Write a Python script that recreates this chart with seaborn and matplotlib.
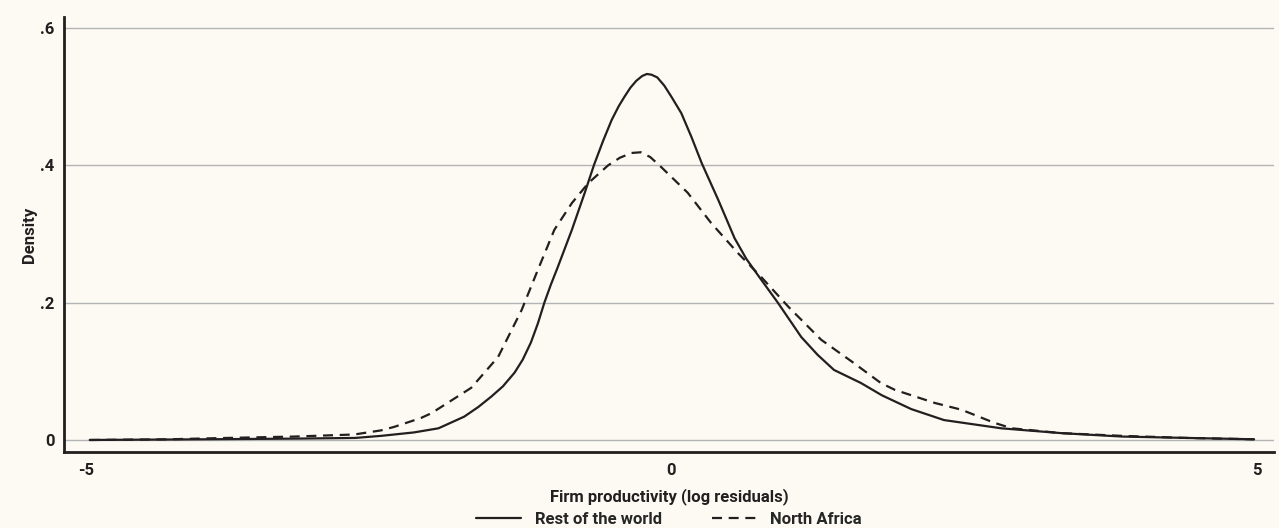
import numpy as np
import pandas as pd
import matplotlib
matplotlib.use("Agg")
import matplotlib.pyplot as plt
import seaborn as sns
from matplotlib.lines import Line2D

# ---- data ----
row_x = [-4.97, -4.0, -3.2, -2.7, -2.48, -2.2, -1.99, -1.77, -1.65, -1.54, -1.44, -1.34,
         -1.27, -1.20, -1.14, -1.085, -1.03, -0.97, -0.85, -0.74, -0.66, -0.58, -0.51,
         -0.45, -0.40, -0.35, -0.30, -0.25, -0.21, -0.17, -0.12, -0.06, 0.0, 0.085,
         0.17, 0.26, 0.40, 0.47, 0.54, 0.64, 0.74, 0.91, 1.11, 1.25, 1.39, 1.62, 1.80,
         2.05, 2.33, 2.82, 3.33, 3.85, 4.4, 4.98]
row_y = [0.000, 0.001, 0.002, 0.003, 0.006, 0.011, 0.017, 0.034, 0.048, 0.063, 0.078, 0.098,
         0.117, 0.142, 0.170, 0.200, 0.226, 0.252, 0.306, 0.360, 0.401, 0.437, 0.466,
         0.486, 0.500, 0.513, 0.523, 0.530, 0.533, 0.532, 0.528, 0.516, 0.500, 0.476,
         0.442, 0.403, 0.350, 0.322, 0.294, 0.264, 0.240, 0.200, 0.150, 0.124, 0.102,
         0.083, 0.065, 0.045, 0.029, 0.017, 0.010, 0.005, 0.003, 0.001]

na_x = [-4.97, -4.3, -3.79, -3.22, -2.71, -2.48, -2.37, -2.14, -2.05, -1.71, -1.48,
        -1.28, -1.14, -1.00, -0.85, -0.71, -0.54, -0.44, -0.34, -0.26, -0.18, -0.09,
        0.14, 0.34, 0.57, 0.77, 1.00, 1.28, 1.56, 1.79, 1.91, 2.25, 2.48, 2.76, 2.91,
        3.33, 3.85, 4.4, 4.98]
na_y = [0.000, 0.001, 0.003, 0.005, 0.008, 0.014, 0.019, 0.032, 0.039, 0.076, 0.121,
        0.189, 0.248, 0.306, 0.345, 0.374, 0.400, 0.411, 0.418, 0.419, 0.412, 0.398,
        0.360, 0.316, 0.272, 0.237, 0.194, 0.146, 0.112, 0.083, 0.073, 0.054, 0.044,
        0.025, 0.017, 0.010, 0.006, 0.003, 0.001]

series_names = ["Rest of the world", "North Africa"]
x_ticks = [-5, 0, 5]
x_ticklabels = ["-5", "0", "5"]
y_ticks = [0, 0.2, 0.4, 0.6]
y_ticklabels = ["0", ".2", ".4", ".6"]

# ---- style ----
sns.set_theme(style="white")
plt.rcParams['font.family'] = ['Roboto', 'DejaVu Sans']
plt.rcParams['font.weight'] = 'bold'

BG = "#fcfaf3"
INK = "#231f20"
FS = 12

fig = plt.figure(figsize=(12.79, 5.28), dpi=100, facecolor=BG)
ax = fig.add_axes([64/1279, 1-452/528, (1274-64)/1279, (452-17)/528])
ax.set_facecolor(BG)

df_row = pd.DataFrame({"x": row_x, "y": row_y})
df_na = pd.DataFrame({"x": na_x, "y": na_y})

sns.lineplot(data=df_row, x="x", y="y", ax=ax, color=INK, lw=1.6, sort=True,
             estimator=None, solid_joinstyle="round")
sns.lineplot(data=df_na, x="x", y="y", ax=ax, color=INK, lw=1.6, sort=True,
             estimator=None, linestyle=(0, (4.5, 3)))

ax.set_xlim(-5.19, 5.15)
ax.set_ylim(-0.0175, 0.616)

for yv in y_ticks:
    ax.axhline(yv, color="#b4b4b4", lw=1.0, zorder=0)

ax.set_xticks(x_ticks)
ax.set_xticklabels(x_ticklabels)
ax.set_yticks(y_ticks)
ax.set_yticklabels(y_ticklabels)
ax.tick_params(axis="both", length=0, labelsize=FS, colors=INK)
ax.tick_params(axis="y", pad=7)
ax.tick_params(axis="x", pad=8)
for lab in ax.get_xticklabels() + ax.get_yticklabels():
    lab.set_fontweight("bold")

ax.set_xlabel("Firm productivity (log residuals)", fontsize=FS, fontweight="bold",
              color=INK, labelpad=7)
ax.set_ylabel("Density", fontsize=FS, fontweight="bold", color=INK, labelpad=2)

for s in ["top", "right"]:
    ax.spines[s].set_visible(False)
for s in ["left", "bottom"]:
    ax.spines[s].set_visible(True)
    ax.spines[s].set_color(INK)
    ax.spines[s].set_linewidth(2.0)

handles = [Line2D([], [], color=INK, lw=1.6),
           Line2D([], [], color=INK, lw=1.6, linestyle=(0, (4.5, 3)))]
fig.legend(handles, series_names, loc="center", bbox_to_anchor=(669/1279, 1-519/528),
           ncol=2, frameon=False, handlelength=2.7, handletextpad=0.8,
           columnspacing=3.0, prop={"weight": "bold", "size": FS})

fig.savefig("out.png", dpi=100, facecolor=BG)
